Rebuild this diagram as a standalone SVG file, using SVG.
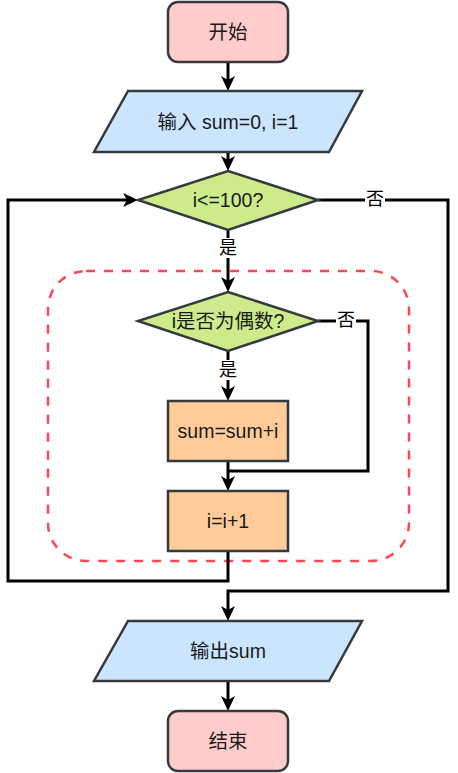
<svg xmlns="http://www.w3.org/2000/svg" width="458" height="773" viewBox="0 0 458 773">
<style>
.n{stroke:#36393d;stroke-width:2.5}
.term{fill:#ffcccc}
.io{fill:#cce5ff}
.dec{fill:#cdeb8b}
.proc{fill:#ffcc99}
.t{font-family:"Liberation Sans","Noto Sans CJK SC",sans-serif;font-size:19.5px;fill:#1a1a1a;text-anchor:middle;dominant-baseline:central}
.lbl{font-family:"Liberation Sans","Noto Sans CJK SC",sans-serif;font-size:18px;fill:#000;text-anchor:middle;dominant-baseline:central}
.c{fill:none;stroke:#000;stroke-width:3;marker-end:url(#arr)}
.c2{fill:none;stroke:#000;stroke-width:3}
.lb{fill:#fff}
</style>
<defs>
<marker id="arr" viewBox="-16 -8 17 16" markerWidth="17" markerHeight="16" refX="-11" refY="0" orient="auto" markerUnits="userSpaceOnUse">
<path d="M0,0 L-15,-7 L-11,0 L-15,7 Z" fill="#000"/>
</marker>
</defs>
<rect id="loopbody" x="48" y="271" width="361" height="290" rx="38" ry="38" fill="none" stroke="#ff4558" stroke-width="2.5" stroke-dasharray="9 9"/>
<g id="connectors">
<path class="c" d="M228,63 V80"/>
<path class="c" d="M228,152 V160"/>
<path class="c" d="M228,230 V281"/>
<path class="c" d="M228,351 V390"/>
<path class="c" d="M228,461 V480"/>
<path class="c2" d="M318,321 H368 V471 H228"/>
<path class="c" d="M228,551 V581 H8 V200 H127"/>
<path class="c" d="M318,200 H448 V591 H228 V610"/>
<path class="c" d="M228,681 V700"/>
<rect class="lb" x="218" y="238" width="20" height="20"/>
<text class="lbl" x="228" y="248">是</text>
<rect class="lb" x="218" y="360" width="20" height="20"/>
<text class="lbl" x="228" y="370">是</text>
<rect class="lb" x="365" y="190" width="20" height="20"/>
<text class="lbl" x="375" y="199">否</text>
<rect class="lb" x="336" y="311" width="20" height="20"/>
<text class="lbl" x="346" y="320">否</text>
</g>
<g id="start">
<rect class="n term" x="168" y="2" width="120" height="60" rx="10" ry="10"/>
<text class="t" x="228" y="32">开始</text>
</g>
<g id="input">
<polygon class="n io" points="128,91 362,91 329,152 94,152"/>
<text class="t" x="228" y="122">输入 sum=0, i=1</text>
</g>
<g id="cond1">
<polygon class="n dec" points="228,171 318,200 228,230 138,200"/>
<text class="t" x="228" y="200">i&lt;=100?</text>
</g>
<g id="cond2">
<polygon class="n dec" points="228,292 318,321 228,351 138,321"/>
<text class="t" x="228" y="321">i是否为偶数?</text>
</g>
<g id="add">
<rect class="n proc" x="168" y="401" width="120" height="60"/>
<text class="t" x="228" y="431">sum=sum+i</text>
</g>
<g id="inc">
<rect class="n proc" x="168" y="491" width="120" height="60"/>
<text class="t" x="228" y="521">i=i+1</text>
</g>
<g id="output">
<polygon class="n io" points="128,621 362,621 329,681 94,681"/>
<text class="t" x="228" y="651">输出sum</text>
</g>
<g id="end">
<rect class="n term" x="168" y="711" width="120" height="60" rx="10" ry="10"/>
<text class="t" x="228" y="741">结束</text>
</g>
</svg>
